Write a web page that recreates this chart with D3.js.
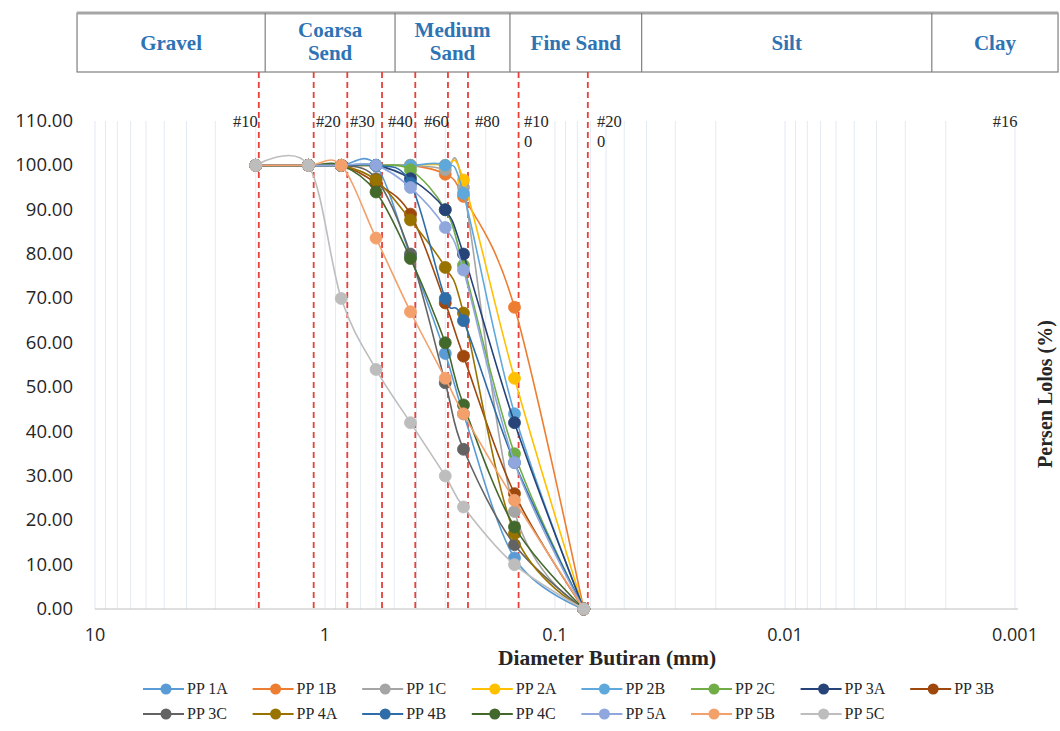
<!DOCTYPE html>
<html>
<head>
<meta charset="utf-8">
<script src="https://cdn.jsdelivr.net/npm/d3@7"></script>
<style>
  body { margin: 0; background: #fff; }
  svg { display: block; }
</style>
</head>
<body>
<div id="chart"></div>
<script>
const width = 1060;
const height = 731;

// sieve openings (mm)
const sieves = [2.0, 1.18, 0.85, 0.6, 0.425, 0.3, 0.25, 0.15, 0.075];

const seriesNames = ['PP 1A', 'PP 1B', 'PP 1C', 'PP 2A', 'PP 2B', 'PP 2C', 'PP 3A', 'PP 3B',
  'PP 3C', 'PP 4A', 'PP 4B', 'PP 4C', 'PP 5A', 'PP 5B', 'PP 5C'];
const seriesColors = ['#5B9BD5', '#ED7D31', '#A5A5A5', '#FFC000', '#5FA8DC', '#70AD47', '#264478', '#9E480E',
  '#636363', '#997300', '#2E6DA8', '#43682B', '#8FA7DD', '#F4A06A', '#BDBDBD'];

// persen lolos for each series, same order as sieves
const pp1A = [100, 100, 100, 100, 79.5, 57.6, 44, 11.5, 0];
const pp1B = [100, 100, 100, 100, 100, 98, 93, 68, 0];
const pp1C = [100, 100, 100, 100, 100, 99, 95, 22, 0];
const pp2A = [100, 100, 100, 100, 100, 100, 96.7, 52, 0];
const pp2B = [100, 100, 100, 100, 100, 100, 93.7, 44, 0];
const pp2C = [100, 100, 100, 100, 99, 90, 77.5, 35, 0];
const pp3A = [100, 100, 100, 100, 97, 90, 80, 42, 0];
const pp3B = [100, 100, 100, 96, 89, 69, 57, 26, 0];
const pp3C = [100, 100, 100, 97, 80, 51, 36, 14.5, 0];
const pp4A = [100, 100, 100, 96.7, 87.7, 77, 66.7, 17, 0];
const pp4B = [100, 100, 100, 100, 96, 70, 65, 33, 0];
const pp4C = [100, 100, 100, 94, 79, 60, 46, 18.5, 0];
const pp5A = [100, 100, 100, 100, 95, 86, 76.4, 33, 0];
const pp5B = [100, 100, 100, 83.6, 67, 52, 44, 24.5, 0];
const pp5C = [100, 100, 70, 54, 42, 30, 23, 10, 0];
const seriesValues = [pp1A, pp1B, pp1C, pp2A, pp2B, pp2C, pp3A, pp3B, pp3C, pp4A, pp4B, pp4C, pp5A, pp5B, pp5C];

// header table (soil classes) with edge diameters
const zoneNames = [['Gravel'], ['Coarsa', 'Send'], ['Medium', 'Sand'], ['Fine Sand'], ['Silt'], ['Clay']];
const zoneEdges = [11.97, 1.82, 0.496, 0.157, 0.042, 0.0023, 0.00065];

// red dashed sieve lines and their labels
const redLineD = [1.94, 1.12, 0.80, 0.565, 0.405, 0.292, 0.239, 0.144, 0.072];
const sieveLabels = [['#10'], ['#20'], ['#30'], ['#40'], ['#60'], ['#80'], ['#10', '0'], ['#20', '0'], ['#16']];
const sieveLabelD = [2.51, 1.094, 0.778, 0.532, 0.371, 0.223, 0.1365, 0.0656, 0.00125];

const yTicks = d3.range(0, 111, 10);
const xTicks = [10, 1, 0.1, 0.01, 0.001];

const x = d3.scaleLog().domain([10, 0.001]).range([95, 1015]);
const y = d3.scaleLinear().domain([0, 110]).range([609, 121]);

const svg = d3.select('#chart').append('svg')
  .attr('width', width)
  .attr('height', height);

// log gridlines
const grid = [];
for (let k = -3; k <= 0; k++) {
  for (let m = 1; m <= 9; m++) grid.push(m * Math.pow(10, k));
}
grid.push(10);
svg.append('g').selectAll('line').data(grid).enter().append('line')
  .attr('x1', d => x(d)).attr('x2', d => x(d))
  .attr('y1', y(110)).attr('y2', y(0))
  .attr('stroke', '#E2EAF3')
  .attr('stroke-width', 1);

// bottom axis line
svg.append('line')
  .attr('x1', x(10)).attr('x2', x(0.001) + 3)
  .attr('y1', y(0)).attr('y2', y(0))
  .attr('stroke', '#BFBFBF');

// y tick labels
svg.append('g').selectAll('text').data(yTicks).enter().append('text')
  .attr('x', 73)
  .attr('y', d => y(d) + 6)
  .attr('text-anchor', 'end')
  .attr('font-family', 'Open Sans')
  .attr('font-size', 18.5)
  .attr('fill', '#262626')
  .text(d3.format('.2f'));

// x tick labels
svg.append('g').selectAll('text').data(xTicks).enter().append('text')
  .attr('x', d => x(d))
  .attr('y', 641)
  .attr('text-anchor', 'middle')
  .attr('font-family', 'Open Sans')
  .attr('font-size', 18)
  .attr('fill', '#262626')
  .text(d => String(d));

// header table
const head = svg.append('g');
head.append('rect')
  .attr('x', x(zoneEdges[0])).attr('y', 13)
  .attr('width', x(zoneEdges[zoneEdges.length - 1]) - x(zoneEdges[0]))
  .attr('height', 59)
  .attr('fill', '#fff')
  .attr('stroke', '#7F7F7F')
  .attr('stroke-width', 1.2);
head.append('line')
  .attr('x1', x(zoneEdges[0])).attr('x2', x(zoneEdges[zoneEdges.length - 1]))
  .attr('y1', 13).attr('y2', 13)
  .attr('stroke', '#A6A6A6').attr('stroke-width', 3);
head.selectAll('.div').data(zoneEdges.slice(1, -1)).enter().append('line')
  .attr('x1', d => x(d)).attr('x2', d => x(d))
  .attr('y1', 13).attr('y2', 72)
  .attr('stroke', '#7F7F7F').attr('stroke-width', 1.2);
zoneNames.forEach((lines, i) => {
  const cx = (x(zoneEdges[i]) + x(zoneEdges[i + 1])) / 2;
  const t = head.append('text')
    .attr('text-anchor', 'middle')
    .attr('font-family', 'Liberation Serif')
    .attr('font-weight', 'bold')
    .attr('font-size', 21)
    .attr('fill', '#2E74B5');
  lines.forEach((s, j) => {
    t.append('tspan')
      .attr('x', cx)
      .attr('y', lines.length === 1 ? 50 : 37 + j * 23)
      .text(s);
  });
});

// red dashed lines
svg.append('g').selectAll('line').data(redLineD).enter().append('line')
  .attr('x1', d => x(d)).attr('x2', d => x(d))
  .attr('y1', 72).attr('y2', y(0))
  .attr('stroke', '#E8403A')
  .attr('stroke-width', 1.8)
  .attr('stroke-dasharray', '6,4');

// sieve labels
sieveLabels.forEach((lines, i) => {
  const t = svg.append('text')
    .attr('font-family', 'Liberation Serif')
    .attr('font-size', 16.5)
    .attr('fill', '#262626');
  lines.forEach((s, j) => {
    t.append('tspan').attr('x', x(sieveLabelD[i])).attr('y', 127 + j * 20).text(s);
  });
});

// series
const line = d3.line()
  .x((d, i) => x(sieves[i]))
  .y(d => y(d))
  .curve(d3.curveCardinal.tension(0));

const plot = svg.append('g');
seriesValues.forEach((vals, s) => {
  const g = plot.append('g');
  g.append('path')
    .datum(vals)
    .attr('d', line)
    .attr('fill', 'none')
    .attr('stroke', seriesColors[s])
    .attr('stroke-width', 1.6);
  g.selectAll('circle').data(vals).enter().append('circle')
    .attr('cx', (d, i) => x(sieves[i]))
    .attr('cy', d => y(d))
    .attr('r', 6)
    .attr('fill', seriesColors[s])
    .attr('stroke', seriesColors[s])
    .attr('stroke-width', 0.8);
});

// axis titles
svg.append('text')
  .attr('x', 607).attr('y', 665)
  .attr('text-anchor', 'middle')
  .attr('font-family', 'Liberation Serif')
  .attr('font-weight', 'bold')
  .attr('font-size', 21.5)
  .attr('fill', '#262626')
  .text('Diameter Butiran (mm)');

svg.append('text')
  .attr('transform', 'translate(1052,394) rotate(-90)')
  .attr('text-anchor', 'middle')
  .attr('font-family', 'Liberation Serif')
  .attr('font-weight', 'bold')
  .attr('font-size', 20)
  .attr('fill', '#262626')
  .text('Persen Lolos (%)');

// legend
const legend = svg.append('g');
seriesNames.forEach((name, i) => {
  const row = i < 8 ? 0 : 1;
  const col = i < 8 ? i : i - 8;
  const mx = 166 + col * 109.6;
  const my = 689 + row * 25;
  legend.append('line')
    .attr('x1', mx - 23).attr('x2', mx + 18)
    .attr('y1', my).attr('y2', my)
    .attr('stroke', seriesColors[i]).attr('stroke-width', 1.8);
  legend.append('circle')
    .attr('cx', mx).attr('cy', my).attr('r', 5.5)
    .attr('fill', seriesColors[i]);
  legend.append('text')
    .attr('x', mx + 21).attr('y', my + 5)
    .attr('font-family', 'Liberation Serif')
    .attr('font-size', 16)
    .attr('fill', '#262626')
    .text(name);
});
</script>
</body>
</html>
